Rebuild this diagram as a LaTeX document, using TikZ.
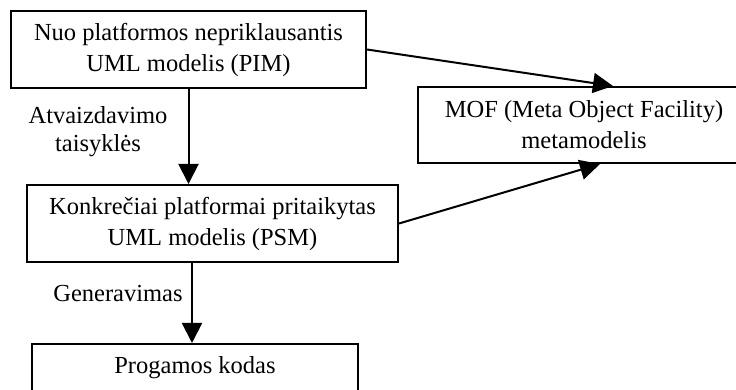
\documentclass[tikz,border=0pt]{standalone}
\usepackage{fontspec}
\setmainfont{Liberation Serif}
\usetikzlibrary{arrows.meta}
\begin{document}
\begin{tikzpicture}[x=1pt,y=1pt,
  box/.style={draw, line width=2pt, rectangle, align=center, inner sep=0pt,
    font=\fontsize{24.5}{31}\selectfont},
  lbl/.style={align=center, inner sep=0pt, font=\fontsize{24.5}{28}\selectfont},
  arr/.style={line width=2pt, -{Triangle[length=20pt,width=20pt]}}]
  \useasboundingbox (0,0) rectangle (736,390);
  \clip (0,0) rectangle (736,390);
  % model boxes
  \node[box, minimum width=355pt, minimum height=77pt] (pim) at (188.5,340.5)
    {Nuo platformos nepriklausantis\\UML modelis (PIM)};
  \node[box, minimum width=332pt, minimum height=76pt] (mof) at (584,265)
    {MOF (Meta Object Facility)\\metamodelis};
  \node[box, minimum width=371pt, minimum height=77pt] (psm) at (212.5,166.5)
    {Konkrečiai platformai pritaikytas\\UML modelis (PSM)};
  \node[box, minimum width=326pt, minimum height=48pt] (code) at (195,22)
    {Progamos kodas};
  % transformation labels
  \node[lbl] (atv) at (98,258) {Atvaizdavimo\\taisyklės};
  \node[lbl, anchor=base] (gen) at (118,88) {Generavimas};
  % connectors
  \draw[arr] (pim.south) -- (pim.south |- psm.north);
  \draw[arr] ([xshift=-3pt]code.north |- psm.south) -- ([xshift=-3pt]code.north);
  \draw[arr] (pim.east) -- ([xshift=29pt]mof.north);
  \draw[arr] (psm.east) -- ([xshift=16pt]mof.south);
\end{tikzpicture}
\end{document}
